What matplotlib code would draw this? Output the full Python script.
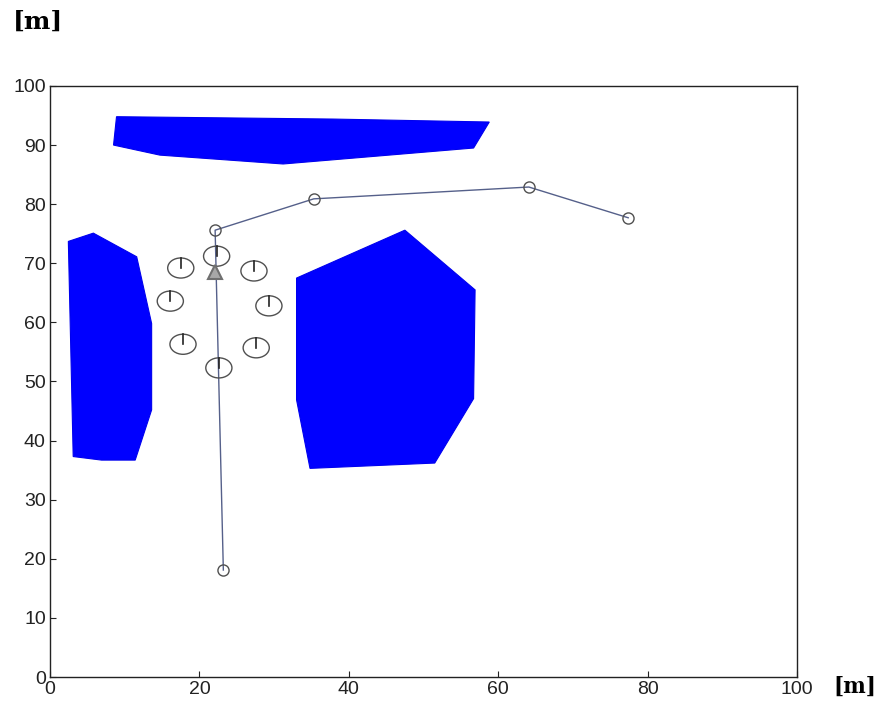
import matplotlib.pyplot as plt
from matplotlib.patches import Polygon, Ellipse

# obstacle outlines [m]
obst_top_x = [8.9, 37.9, 58.8, 56.7, 31.2, 14.7, 8.5]
obst_top_y = [94.8, 94.4, 93.9, 89.5, 86.8, 88.3, 90.0]
obst_left_x = [2.45, 5.8, 11.6, 13.6, 13.6, 11.4, 6.9, 3.1]
obst_left_y = [73.7, 75.1, 71.1, 59.8, 45.2, 36.7, 36.7, 37.3]
obst_mid_x = [33.0, 47.5, 56.9, 56.7, 51.5, 34.8, 33.0]
obst_mid_y = [67.5, 75.6, 65.5, 47.1, 36.2, 35.3, 46.9]

# robot path waypoints
path_x = [23.2, 22.1, 35.3, 64.1, 77.4]
path_y = [18.1, 75.6, 80.9, 82.9, 77.7]

# beacon positions around the target
beacon_x = [22.3, 17.5, 27.3, 16.1, 29.3, 17.8, 27.6, 22.6]
beacon_y = [71.2, 69.2, 68.7, 63.6, 62.8, 56.3, 55.7, 52.3]

target_x = [22.1]
target_y = [68.5]

plt.rcParams['font.family'] = ['Liberation Sans', 'DejaVu Sans']

fig = plt.figure(figsize=(8.81, 7.14), dpi=100)
ax = fig.add_axes([0.0568, 0.0518, 0.8479, 0.8278])

for xs, ys in [(obst_top_x, obst_top_y), (obst_left_x, obst_left_y), (obst_mid_x, obst_mid_y)]:
    ax.add_patch(Polygon(list(zip(xs, ys)), closed=True, facecolor='#0000ff',
                         edgecolor='#0000ee', linewidth=0.8, zorder=2))

ax.plot(path_x, path_y, '-', color='#55608a', linewidth=1.0, zorder=3)
ax.plot(path_x, path_y, 'o', markersize=8, markerfacecolor='none',
        markeredgecolor='#505050', markeredgewidth=1.0, zorder=4)

for bx, by in zip(beacon_x, beacon_y):
    ax.add_patch(Ellipse((bx, by), 3.5, 3.4, facecolor='none', edgecolor='#505050',
                         linewidth=1.0, zorder=4))
    ax.plot([bx, bx], [by, by + 1.7], color='#222222', linewidth=1.2, zorder=4)

ax.plot(target_x, target_y, '^', markersize=10, markerfacecolor='#a8a8a8',
        markeredgecolor='#707070', markeredgewidth=1.5, zorder=5)

ax.set_xlim(0, 100)
ax.set_ylim(0, 100)
ax.set_xticks(range(0, 101, 20))
ax.set_yticks(range(0, 101, 10))
ax.tick_params(direction='in', length=4, labelsize=14, colors='#222222', pad=3)
for sp in ax.spines.values():
    sp.set_linewidth(1.0)
    sp.set_color('#222222')

fig.text(0.0148, 0.987, '[m]', fontsize=18, fontweight='bold', family='DejaVu Serif',
         va='top')
fig.text(0.9455, 0.038, '[m]', fontsize=15.5, fontweight='bold', family='DejaVu Serif',
         va='center')

fig.savefig('out.png', dpi=100)
